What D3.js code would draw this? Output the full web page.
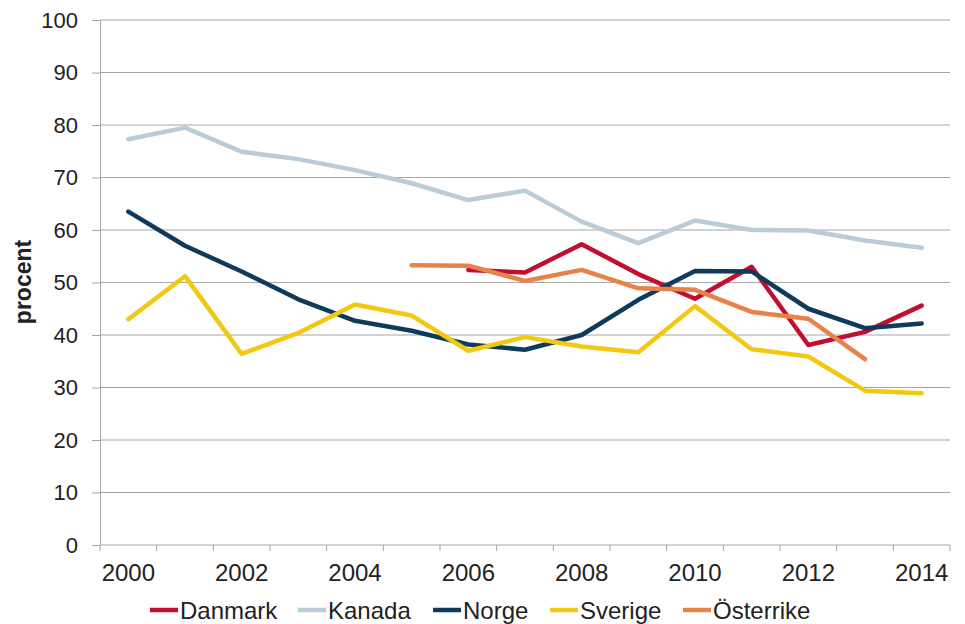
<!DOCTYPE html>
<html>
<head>
<meta charset="utf-8">
<script src="https://cdn.jsdelivr.net/npm/d3@7"></script>
<style>
  body { margin: 0; background: #fff; }
  svg { display: block; font-family: "Liberation Sans", Arial, sans-serif; }
</style>
</head>
<body>
<div id="chart"></div>
<script>
const years = d3.range(2000, 2015);
const yTicks = [0, 10, 20, 30, 40, 50, 60, 70, 80, 90, 100];
const xLabels = [2000, 2002, 2004, 2006, 2008, 2010, 2012, 2014];

const danmark = [null, null, null, null, null, null, 52.4, 51.9, 57.3, 51.6, 46.9, 53.0, 38.1, 40.6, 45.6];
const kanada = [77.3, 79.5, 74.9, 73.5, 71.4, 68.9, 65.7, 67.5, 61.6, 57.5, 61.8, 60.0, 59.9, 58.0, 56.6];
const norge = [63.5, 57.0, 52.1, 46.8, 42.7, 40.8, 38.2, 37.2, 40.0, 46.7, 52.2, 52.1, 45.0, 41.3, 42.2];
const sverige = [43.0, 51.2, 36.4, 40.4, 45.8, 43.7, 37.0, 39.6, 37.8, 36.7, 45.5, 37.3, 35.9, 29.4, 28.9];
const osterrike = [null, null, null, null, null, 53.3, 53.2, 50.3, 52.4, 48.9, 48.6, 44.4, 43.1, 35.4, null];

const seriesNames = ['Danmark', 'Kanada', 'Norge', 'Sverige', 'Österrike'];
const seriesValues = [danmark, kanada, norge, sverige, osterrike];
const colors = ['#C20E2F', '#B9CCD8', '#0E3A5B', '#F2C811', '#E8814A'];

const W = 965, H = 624;
const plot = {left: 100, right: 950, top: 20, bottom: 545};

const svg = d3.select('#chart').append('svg')
  .attr('width', W)
  .attr('height', H);

const x = d3.scaleBand().domain(years).range([plot.left, plot.right]);
const y = d3.scaleLinear().domain([0, 100]).range([plot.bottom, plot.top]);

// gridlines
svg.append('g')
  .selectAll('line')
  .data(yTicks.filter(d => d > 0))
  .enter()
  .append('line')
  .attr('x1', plot.left)
  .attr('x2', plot.right)
  .attr('y1', d => y(d))
  .attr('y2', d => y(d))
  .attr('stroke', '#a6a6a6')
  .attr('stroke-width', 1);

// y axis
const yAxis = svg.append('g')
  .attr('transform', `translate(${plot.left},0)`)
  .call(d3.axisLeft(y).tickValues(yTicks).tickSize(8).tickPadding(14));
yAxis.select('.domain').attr('stroke', '#a6a6a6');
yAxis.selectAll('.tick line').attr('stroke', '#a6a6a6');
yAxis.selectAll('.tick text')
  .attr('fill', '#222')
  .style('font-size', '22px');

// x axis
svg.append('line')
  .attr('x1', plot.left)
  .attr('x2', plot.right)
  .attr('y1', plot.bottom)
  .attr('y2', plot.bottom)
  .attr('stroke', '#a6a6a6');

svg.append('g')
  .selectAll('line')
  .data(years.concat([2015]))
  .enter()
  .append('line')
  .attr('x1', d => (d === 2015 ? plot.right : x(d)))
  .attr('x2', d => (d === 2015 ? plot.right : x(d)))
  .attr('y1', plot.bottom)
  .attr('y2', plot.bottom + 6)
  .attr('stroke', '#a6a6a6');

const xAxis = svg.append('g')
  .attr('transform', `translate(0,${plot.bottom})`)
  .call(d3.axisBottom(x).tickValues(xLabels).tickSize(0).tickPadding(19));
xAxis.select('.domain').remove();
xAxis.selectAll('.tick text')
  .attr('fill', '#222')
  .style('font-size', '24px');

// y title
svg.append('text')
  .attr('transform', 'translate(31,282) rotate(-90)')
  .attr('text-anchor', 'middle')
  .attr('fill', '#222')
  .style('font-size', '23px')
  .style('font-weight', 'bold')
  .text('procent');

// lines
const line = d3.line()
  .defined(d => d.v !== null)
  .x(d => x(d.year) + x.bandwidth() / 2)
  .y(d => y(d.v));

seriesValues.forEach((vals, i) => {
  svg.append('path')
    .datum(years.map((yr, j) => ({year: yr, v: vals[j]})))
    .attr('fill', 'none')
    .attr('stroke', colors[i])
    .attr('stroke-width', 4.5)
    .attr('stroke-linejoin', 'round')
    .attr('stroke-linecap', 'round')
    .attr('d', line);
});

// legend
const legendX = [150, 298, 433, 550, 683];
const legend = svg.append('g');
seriesNames.forEach((name, i) => {
  legend.append('line')
    .attr('x1', legendX[i])
    .attr('x2', legendX[i] + 28)
    .attr('y1', 610)
    .attr('y2', 610)
    .attr('stroke', colors[i])
    .attr('stroke-width', 4.5);
  legend.append('text')
    .attr('x', legendX[i] + 30)
    .attr('y', 619)
    .attr('fill', '#222')
    .style('font-size', '24px')
    .text(name);
});
</script>
</body>
</html>
